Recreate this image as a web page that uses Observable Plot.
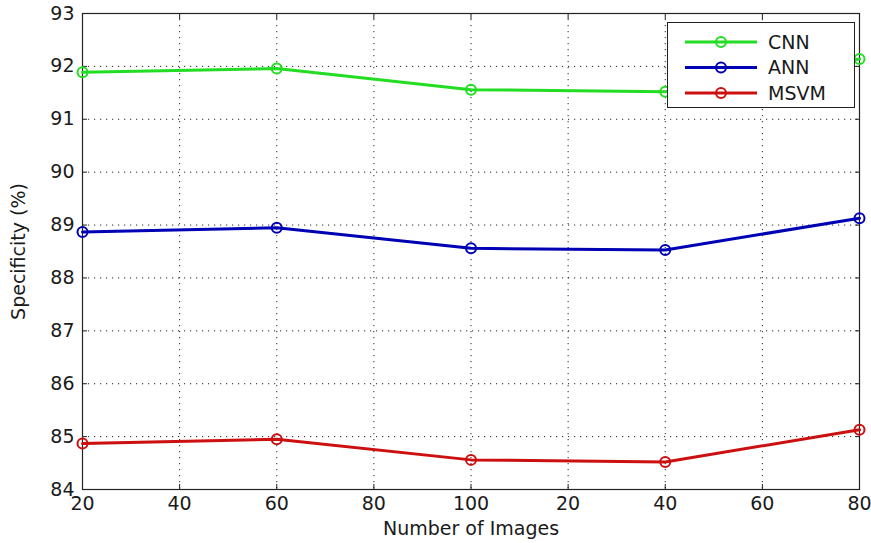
<!DOCTYPE html>
<html><head><meta charset="utf-8">
<script src="https://cdn.jsdelivr.net/npm/d3@7"></script>
<script src="https://cdn.jsdelivr.net/npm/@observablehq/plot@0.6"></script>
<style>
body{margin:0;background:#fff;}
#wrap{position:relative;width:871px;height:543px;}
#legend{position:absolute;left:667px;top:22px;width:188px;height:86px;border:1px solid #222;background:#fff;box-sizing:border-box;}
#legend svg{display:block;}
</style></head><body><div id="wrap"></div>
<script>
const xTickLabels = [20, 40, 60, 80, 100, 20, 40, 60, 80];
const xTickIndex = [0, 1, 2, 3, 4, 5, 6, 7, 8];
const pointIndex = [0, 2, 4, 6, 8];
const yTicks = [84, 85, 86, 87, 88, 89, 90, 91, 92, 93];
const seriesNames = ["CNN", "ANN", "MSVM"];
const seriesColors = ["#22dd22", "#0000b4", "#cc1010"];
const cnn = [91.89, 91.96, 91.56, 91.52, 92.14];
const ann = [88.87, 88.95, 88.56, 88.53, 89.13];
const msvm = [84.87, 84.95, 84.56, 84.52, 85.13];

const rows = [];
[cnn, ann, msvm].forEach((vals, s) => vals.forEach((v, i) => rows.push({series: seriesNames[s], x: pointIndex[i], y: v})));

const font = '"DejaVu Sans", sans-serif';
const gridStyle = {stroke: "#000", strokeOpacity: 0.85, strokeDasharray: "1.2,4.8", strokeWidth: 1};

const plot = Plot.plot({
  width: 871, height: 543,
  marginLeft: 82, marginRight: 12, marginTop: 13, marginBottom: 54,
  style: {fontFamily: font, fontSize: "19px", color: "#1a1a1a", background: "white"},
  x: {domain: [0, 8]},
  y: {domain: [84, 93]},
  color: {domain: seriesNames, range: seriesColors},
  marks: [
    Plot.gridX(xTickIndex, gridStyle),
    Plot.gridY(yTicks, gridStyle),
    Plot.frame({stroke: "#222", strokeWidth: 1.2}),
    Plot.axisX(xTickIndex, {anchor: "bottom", tickSize: 5, dy: -5, fill: "none", label: null, stroke: "#222"}),
    Plot.axisX(xTickIndex, {anchor: "top", tickSize: 5, dy: 5, fill: "none", label: null, stroke: "#222"}),
    Plot.axisY(yTicks, {anchor: "left", tickSize: 5, dx: 5, fill: "none", label: null, stroke: "#222"}),
    Plot.axisY(yTicks, {anchor: "right", tickSize: 5, dx: -5, fill: "none", label: null, stroke: "#222"}),
    Plot.axisX(xTickIndex, {anchor: "bottom", tickSize: 0, tickPadding: 7, tickFormat: i => String(xTickLabels[i]), label: "Number of Images", labelAnchor: "center", labelOffset: 45, labelArrow: "none"}),
    Plot.axisY(yTicks, {anchor: "left", tickSize: 0, tickPadding: 8, tickFormat: d => String(d), label: "Specificity (%)", labelAnchor: "center", labelOffset: 71, labelArrow: "none"}),
    Plot.line(rows, {x: "x", y: "y", z: "series", stroke: "series", strokeWidth: 3}),
    Plot.dot(rows, {x: "x", y: "y", stroke: "series", r: 5, strokeWidth: 2, fill: "none"})
  ]
});

const wrap = document.getElementById("wrap");
wrap.appendChild(plot);

// legend
const legend = document.createElement("div");
legend.id = "legend";
const rowH = 25.5;
let svg = `<svg width="186" height="84" xmlns="http://www.w3.org/2000/svg">`;
seriesNames.forEach((name, i) => {
  const cy = 19 + i * rowH;
  svg += `<line x1="17" x2="89" y1="${cy}" y2="${cy}" stroke="${seriesColors[i]}" stroke-width="3"/>`;
  svg += `<circle cx="53" cy="${cy}" r="5" fill="none" stroke="${seriesColors[i]}" stroke-width="2"/>`;
  svg += `<text x="100" y="${cy}" dy="0.36em" font-family='DejaVu Sans, sans-serif' font-size="19" fill="#1a1a1a">${name}</text>`;
});
svg += `</svg>`;
legend.innerHTML = svg;
wrap.appendChild(legend);
</script>
</body></html>
